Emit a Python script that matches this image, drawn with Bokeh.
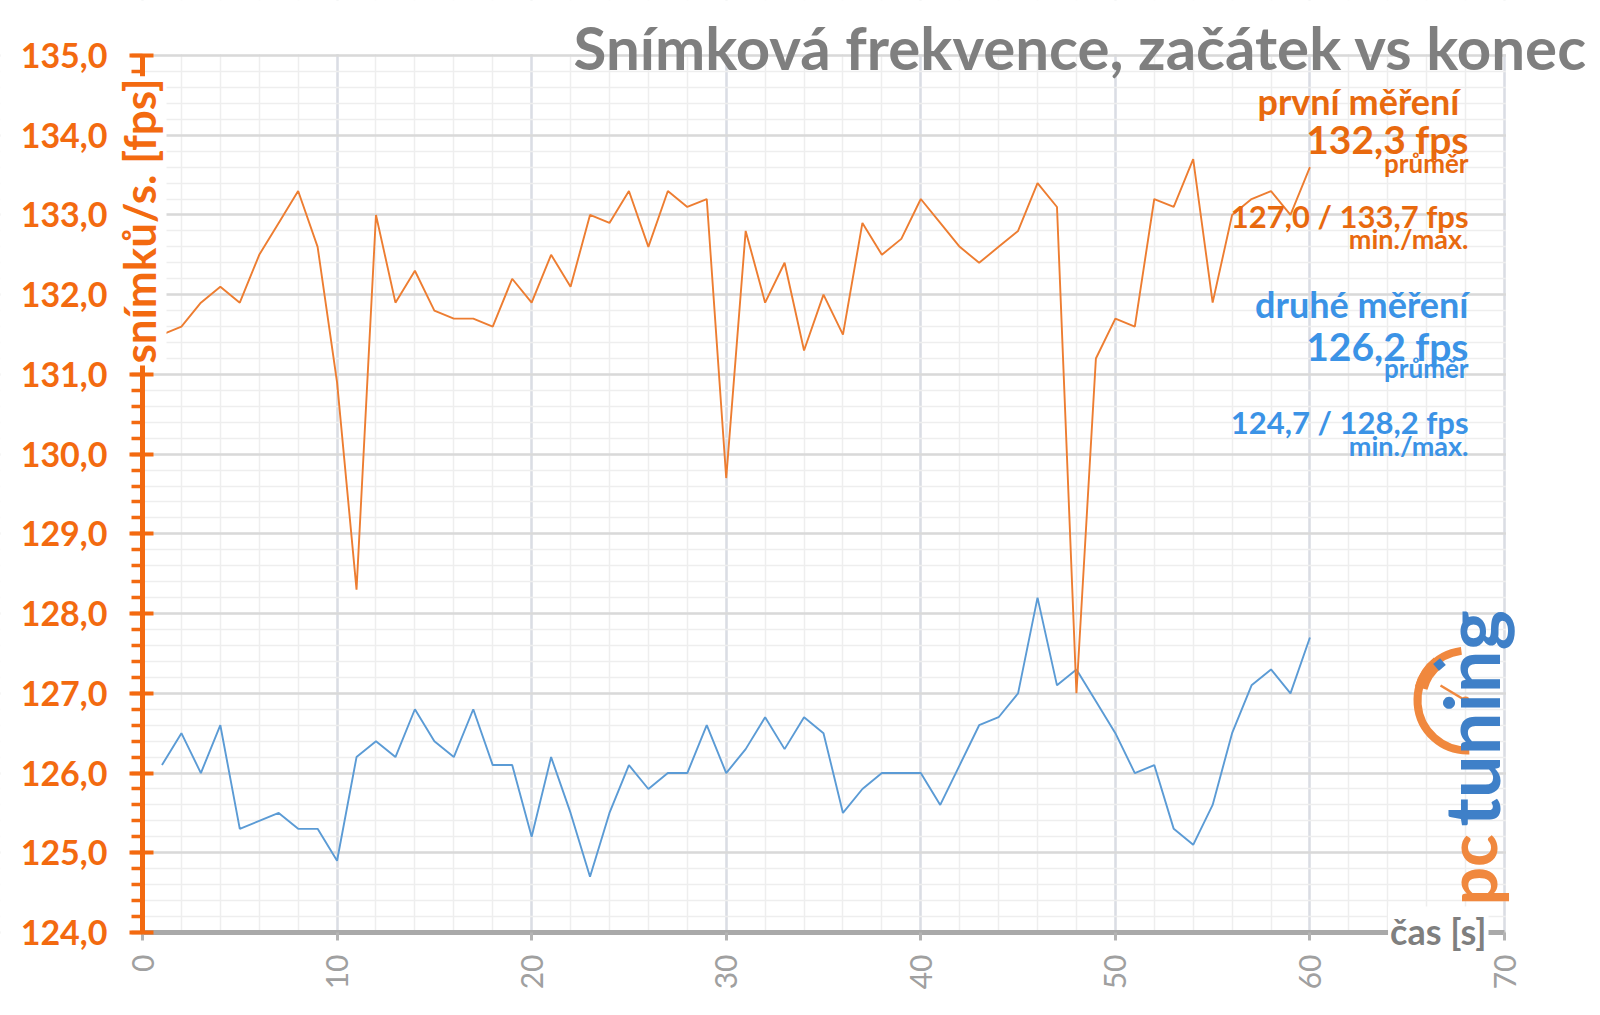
import math
from bokeh.plotting import figure
from bokeh.models import (Label, Range1d, SingleIntervalTicker, CustomJSTickFormatter)
from bokeh.embed import file_html
from bokeh.resources import INLINE

# ---------------- data ----------------
seconds = list(range(1, 61))
first_run = [131.5, 131.6, 131.9, 132.1, 131.9, 132.5, 132.9, 133.3, 132.6, 130.9,
             128.3, 133.0, 131.9, 132.3, 131.8, 131.7, 131.7, 131.6, 132.2, 131.9,
             132.5, 132.1, 133.0, 132.9, 133.3, 132.6, 133.3, 133.1, 133.2, 129.7,
             132.8, 131.9, 132.4, 131.3, 132.0, 131.5, 132.9, 132.5, 132.7, 133.2,
             132.9, 132.6, 132.4, 132.6, 132.8, 133.4, 133.1, 127.0, 131.2, 131.7,
             131.6, 133.2, 133.1, 133.7, 131.9, 133.0, 133.2, 133.3, 133.0, 133.6]
second_run = [126.1, 126.5, 126.0, 126.6, 125.3, 125.4, 125.5, 125.3, 125.3, 124.9,
              126.2, 126.4, 126.2, 126.8, 126.4, 126.2, 126.8, 126.1, 126.1, 125.2,
              126.2, 125.5, 124.7, 125.5, 126.1, 125.8, 126.0, 126.0, 126.6, 126.0,
              126.3, 126.7, 126.3, 126.7, 126.5, 125.5, 125.8, 126.0, 126.0, 126.0,
              125.6, 126.1, 126.6, 126.7, 127.0, 128.2, 127.1, 127.3, 126.9, 126.5,
              126.0, 126.1, 125.3, 125.1, 125.6, 126.5, 127.1, 127.3, 127.0, 127.7]

title_text = "Snímková frekvence, začátek vs konec"
y_label = "snímků/s. [fps]"
x_label = "čas [s]"
first_texts = ["první měření", "132,3 fps", "průměr", "127,0 / 133,7 fps", "min./max."]
second_texts = ["druhé měření", "126,2 fps", "průměr", "124,7 / 128,2 fps", "min./max."]

# ---------------- layout ----------------
W, H = 1600, 1015
L, R, T, B = 142, 1504, 55, 932          # pixel box of the data area (0..70, 124..135)
X0, X1, Y0, Y1 = 0, 70, 124, 135
PX_X = (R - L) / (X1 - X0)
PX_Y = (B - T) / (Y1 - Y0)

def dx(px):
    return X0 + (px - L) / PX_X

def dy(py):
    return Y1 - (py - T) / PX_Y

ORANGE_AX = "#f36a10"
ORANGE_TX = "#e8690e"
BLUE_TX = "#3b93e6"
GRAY_T = "#7f7f7f"

# the frame covers the whole canvas; the axes are pinned at fixed data locations
XR = (dx(0), dx(W))
YR = (dy(H), dy(0))
p = figure(width=W, height=H, x_range=Range1d(*XR), y_range=Range1d(*YR),
           output_backend="svg", toolbar_location=None,
           min_border_left=0, min_border_right=0, min_border_top=0, min_border_bottom=0)
p.outline_line_color = None
p.background_fill_color = "white"
p.border_fill_color = "white"

# axes
p.xaxis.ticker = SingleIntervalTicker(interval=10, num_minor_ticks=5)
p.yaxis.ticker = SingleIntervalTicker(interval=1, num_minor_ticks=5)
p.yaxis.formatter = CustomJSTickFormatter(code="return tick.toFixed(1).replace('.', ',');")

ya = p.yaxis[0]
ya.fixed_location = X0
ya.bounds = (Y0, Y1)
ya.axis_line_color = ORANGE_AX
ya.axis_line_width = 5
ya.major_tick_line_color = ORANGE_AX
ya.major_tick_line_width = 4
ya.major_tick_in = 11
ya.major_tick_out = 13
ya.minor_tick_line_color = ORANGE_AX
ya.minor_tick_line_width = 3.5
ya.minor_tick_in = 0
ya.minor_tick_out = 11
ya.major_label_text_font = "Lato"
ya.major_label_text_font_style = "bold"
ya.major_label_text_font_size = "34px"
ya.major_label_text_color = ORANGE_AX
ya.major_label_standoff = 22

xa = p.xaxis[0]
xa.fixed_location = Y0
xa.bounds = (X0, X1)
xa.axis_line_color = "#a9a9a9"
xa.axis_line_width = 5
xa.major_tick_line_color = "#b3b3b3"
xa.major_tick_line_width = 3
xa.major_tick_in = 0
xa.major_tick_out = 8
xa.minor_tick_line_color = None
xa.major_label_orientation = math.pi / 2
xa.major_label_text_font = "Lato"
xa.major_label_text_font_size = "30px"
xa.major_label_text_color = "#a0a0a0"
xa.major_label_standoff = 14

# grid
p.ygrid.bounds = (Y0, Y1)
p.xgrid.bounds = (X0, X1)
p.ygrid.grid_line_color = "#d9d9d9"
p.ygrid.grid_line_width = 2.5
p.ygrid.minor_grid_line_color = "#eeeeee"
p.ygrid.minor_grid_line_width = 1.5
p.xgrid.grid_line_color = "#dadde4"
p.xgrid.grid_line_width = 2.5
p.xgrid.minor_grid_line_color = "#eeeeee"
p.xgrid.minor_grid_line_width = 1.5

# white cover outside the data area (grid lines span the whole frame)
ex, ey = 1.5 / PX_X, 1.5 / PX_Y
p.quad(left=[X1 + ex, XR[0], XR[0], XR[0]],
       right=[XR[1], XR[1], X0 - ex, XR[1]],
       bottom=[YR[0], Y1 + ey, YR[0], YR[0]],
       top=[YR[1], YR[1], YR[1], Y0 - ey],
       fill_color="white", line_color=None)

# data lines
p.line(seconds, second_run, line_color="#5b9bd5", line_width=1.9)
p.line(seconds, first_run, line_color="#ed7d31", line_width=1.9)

# axis titles (white boxes over the axis lines, as in the original)
p.add_layout(Label(x=dx(138), y=dy(365), text=y_label, angle=math.pi / 2,
                   text_align="left", text_baseline="middle", text_font="Lato",
                   text_font_style="bold", text_font_size="44px", text_color=ORANGE_AX,
                   background_fill_color="white", padding=2))
p.add_layout(Label(x=dx(1488), y=dy(930), text=x_label, text_align="right",
                   text_baseline="middle", text_font="Lato", text_font_style="bold",
                   text_font_size="36px", text_color=GRAY_T,
                   background_fill_color="white", padding=2))

# title
p.add_layout(Label(x=dx(1587), y=dy(46), text=title_text, text_align="right",
                   text_baseline="alphabetic", text_font="Lato", text_font_style="bold",
                   text_font_size="60px", text_color=GRAY_T))

# legend-like text block
RX = 1468
sizes = ["36px", "39px", "26px", "31px", "27px"]
first_base = [100.0, 138.5, 162.0, 215.0, 237.5]
second_base = [303.5, 345.0, 367.0, 421.5, 445.0]
for txt, sz, by in zip(first_texts, sizes, first_base):
    rx = RX - 9 if txt == first_texts[0] else RX
    p.add_layout(Label(x=dx(rx), y=dy(by), text=txt, text_align="right",
                       text_baseline="alphabetic", text_font="Lato", text_font_style="bold",
                       text_font_size=sz, text_color=ORANGE_TX))
for txt, sz, by in zip(second_texts, sizes, second_base):
    p.add_layout(Label(x=dx(RX), y=dy(by), text=txt, text_align="right",
                       text_baseline="alphabetic", text_font="Lato", text_font_style="bold",
                       text_font_size=sz, text_color=BLUE_TX))

# pcTuning logo (decoration)
LOGO_OR = "#f0883e"
LOGO_BL = "#3f80c8"
cx, cy = dx(1467), dy(700)
p.arc(x=[cx], y=[cy], radius=50, radius_units="screen", start_angle=math.radians(97),
      end_angle=math.radians(272), direction="anticlock", line_color=LOGO_OR, line_width=8)
p.arc(x=[cx], y=[cy], radius=48, radius_units="screen", start_angle=math.radians(128),
      end_angle=math.radians(165), direction="anticlock", line_color=LOGO_OR, line_width=13)
p.segment(x0=[dx(1440)], y0=[dy(685)], x1=[cx - 0.1], y1=[cy], line_color=LOGO_OR, line_width=2.5)
p.scatter(x=[cx - 0.1], y=[cy], size=8, marker="circle", fill_color=LOGO_OR, line_color=None)
p.scatter(x=[dx(1439)], y=[dy(664)], size=9, marker="square", angle=0.7,
          fill_color=LOGO_BL, line_color=None)
p.add_layout(Label(x=dx(1470), y=dy(905), text="pc", angle=math.pi / 2, text_align="left",
                   text_baseline="alphabetic", text_font="Lato", text_font_style="bold",
                   text_font_size="68px", text_color=LOGO_OR))
p.add_layout(Label(x=dx(1470), y=dy(826), text="tuning", angle=math.pi / 2, text_align="left",
                   text_baseline="alphabetic", text_font="Lato", text_font_style="bold",
                   text_font_size="76px", text_color=LOGO_BL))

open("out.html", "w").write(file_html(p, INLINE))
